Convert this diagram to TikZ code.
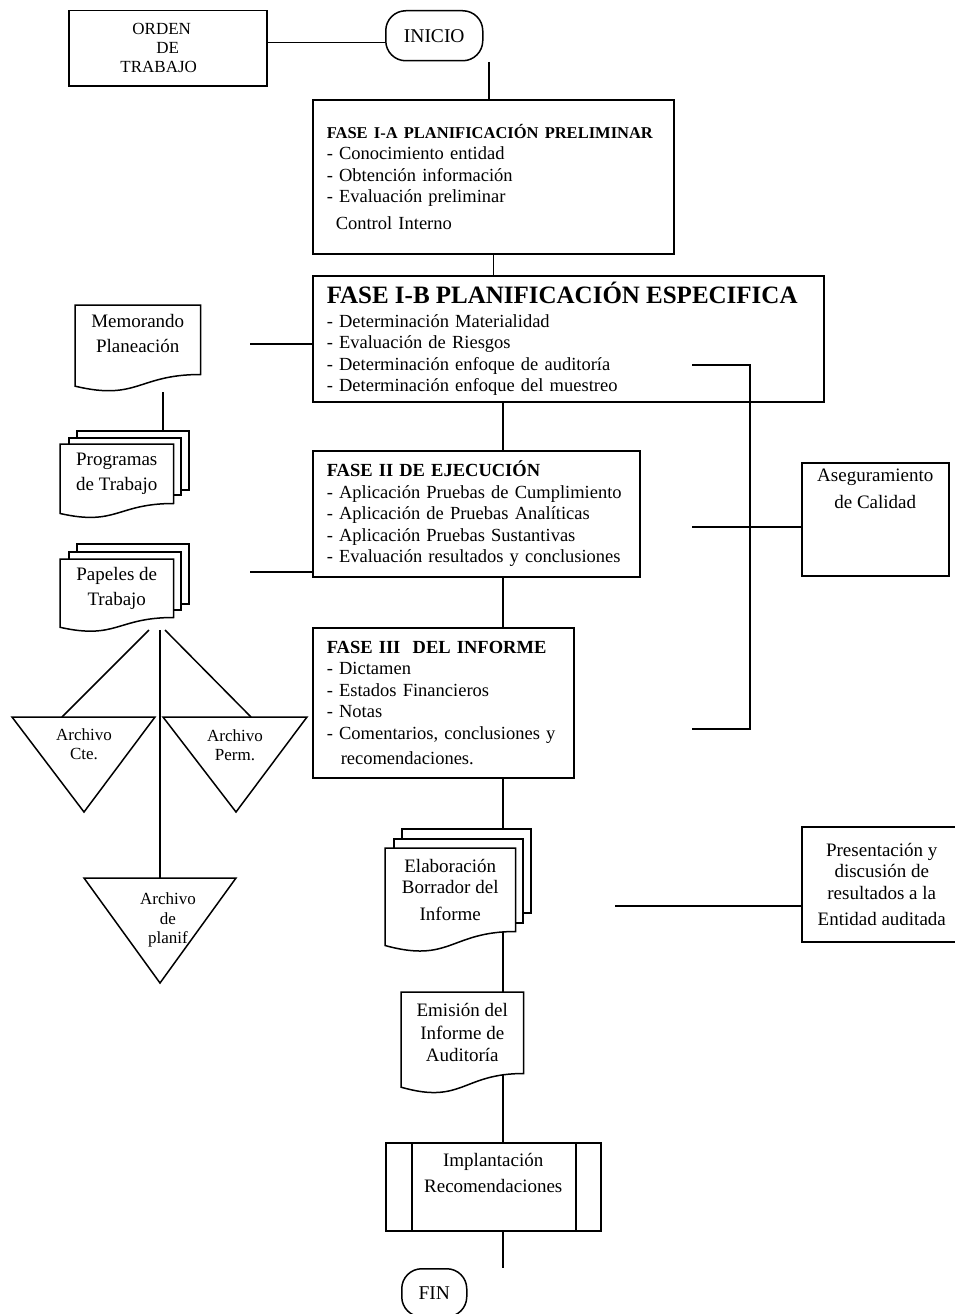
\documentclass[tikz,border=0pt]{standalone}
\usepackage{fontspec}
\setmainfont{Liberation Serif}
\usetikzlibrary{positioning,calc}
\tikzset{phase/.style={rectangle,draw,anchor=north west,align=left,inner xsep=14pt,font=\fontsize{18.5}{21.5}\selectfont},
         box/.style={rectangle,draw,anchor=north west,align=center,font=\fontsize{19}{21.5}\selectfont},
         terminal/.style={rectangle,draw,rounded corners=20pt,anchor=north west,font=\fontsize{19.5}{21.5}\selectfont},
         docbody/.style={rectangle,fill=white,anchor=north west,align=center,inner sep=2pt,font=\fontsize{19}{21.5}\selectfont},
         sheet/.style={rectangle,draw,fill=white,anchor=north west,inner sep=0pt},
         predproc/.style={rectangle,draw,anchor=north west,
             path picture={\draw ([xshift=26pt]path picture bounding box.north west) -- ([xshift=26pt]path picture bounding box.south west)
                                 ([xshift=-25pt]path picture bounding box.north east) -- ([xshift=-25pt]path picture bounding box.south east);}},
         filetext/.style={align=center,font=\fontsize{17}{19.5}\selectfont},
         inner label/.style={anchor=north,align=center,font=\fontsize{19}{21.5}\selectfont}
}
% document symbol: node box plus wavy foot
\newcommand{\docedge}[1]{\draw (#1.north west) -- (#1.north east) -- (#1.south east)
  .. controls (#1.south) and ($(#1.north)!1.384!(#1.south)$) .. ($(#1.north west)!1.1675!(#1.south west)$) -- cycle;}

\begin{document}
\begin{tikzpicture}[x=1pt,y=-1pt,line width=1.5pt]
\useasboundingbox (0,0) rectangle (955,1314);

\node[box, minimum width=198, minimum height=75, font=\fontsize{17}{19}\selectfont] (orden) at (68,10) {ORDEN\hspace*{12pt}\\DE\\TRABAJO\hspace*{18pt}};
\node[terminal, minimum width=97, minimum height=50] (inicio) at (385,10) {INICIO};
\draw ([yshift=5.5pt]orden.east) -- ([yshift=-7pt]inicio.west);
\coordinate (inicioout) at (489,62);
\coordinate (spine) at (503,0);

% fases
\node[phase, text width=333, minimum height=154] (f1a) at (312,99) {%
  {\fontsize{16.5}{19}\selectfont\bfseries FASE I-A PLANIFICACIÓN PRELIMINAR}\\
  - Conocimiento entidad\\
  - Obtención información\\
  - Evaluación preliminar\\[5pt]
  \hspace*{9pt}Control Interno};
\node[phase, text width=483, minimum height=126] (f1b) at (312,275) {%
  \mbox{\fontsize{25}{26}\selectfont\bfseries FASE I-B PLANIFICACIÓN ESPECIFICA}\\[2pt]
  - Determinación Materialidad\\
  - Evaluación de Riesgos\\
  - Determinación enfoque de auditoría\\
  - Determinación enfoque del muestreo};
\node[phase, text width=299, minimum height=126] (f2) at (312,450) {%
  {\fontsize{18.5}{20}\selectfont\bfseries FASE II DE EJECUCIÓN}\\
  - Aplicación Pruebas de Cumplimiento\\
  - Aplicación de Pruebas Analíticas\\
  - Aplicación Pruebas Sustantivas\\
  - Evaluación resultados y conclusiones};
\node[phase, text width=233, minimum height=150] (f3) at (312,627) {%
  {\fontsize{18.5}{20}\selectfont\bfseries FASE III\ \ DEL INFORME}\\
  - Dictamen\\
  - Estados Financieros\\
  - Notas\\
  - Comentarios, conclusiones y\\[4pt]
  \hspace*{14pt}recomendaciones.};
\draw (inicioout) -- (inicioout |- f1a.north);
\draw (f1a.south) -- (f1a.south |- f1b.north);
\draw (f1b.south -| spine) -- (f2.north -| spine);
\draw (f2.south -| spine) -- (f3.north -| spine);

% papeles a la izquierda
\node[docbody, minimum width=124, minimum height=68] (memo) at (75,305) {Memorando\\[3.5pt]Planeación\\[-8pt]\mbox{}};
\docedge{memo}
\coordinate (memoout) at (250,344);
\draw (memoout) -- (memoout -| f1b.west);

\node[sheet, minimum width=112, minimum height=59] (progs3) at (76,430) {};
\node[sheet, minimum width=112, minimum height=57] (progs2) at (68,437) {};
\node[docbody, minimum width=112, minimum height=58] (progs) at (60,444) {Programas\\[3.5pt]de Trabajo};
\docedge{progs}
\coordinate (memolow) at (163,392);
\draw (memolow) -- (memolow |- progs3.north);

\node[sheet, minimum width=112, minimum height=60] (pap3) at (76,543) {};
\node[sheet, minimum width=112, minimum height=58] (pap2) at (68,551) {};
\node[docbody, minimum width=112, minimum height=57] (pap) at (60,559) {Papeles de\\[3.5pt]Trabajo};
\docedge{pap}
\coordinate (papout) at (250,572);
\draw (papout) -- (papout -| f2.west);

% archivos
\node[filetext] (cte) at (84,744) {Archivo\\Cte.};
\draw (12,717) -- (155,717) -- (84,812) -- cycle;
\node[filetext] (perm) at (235,745) {Archivo\\Perm.};
\draw (163,717) -- (307,717) -- (236,812) -- cycle;
\node[filetext] (planif) at (168,920) {Archivo\\de\\planif};
\draw (84,878) -- (236,878) -- (160,983) -- cycle;
\coordinate (papfoot) at (160,630);
\coordinate (ctetop) at (62,717);
\coordinate (permtop) at (251,717);
\coordinate (planiftop) at (160,878);
\draw ([xshift=-11pt]papfoot) -- (ctetop);
\draw (papfoot) -- (planiftop);
\draw ([xshift=5pt]papfoot) -- (permtop);

% calidad
\node[box, minimum width=147, minimum height=113,
      label={[name=asegtxt,inner label,yshift=-3pt]north:{Aseguramiento\\[5pt]de Calidad}}] (aseg) at (801,462) {};
\coordinate (qtop) at (692,365);
\coordinate (qmid) at (692,527);
\coordinate (qbot) at (692,729);
\coordinate (qbar) at (750,0);
\draw (qtop) -- (qtop -| qbar) -- (qbot -| qbar) -- (qbot);
\draw (qmid) -- (qmid -| aseg.west);

% informe
\node[sheet, minimum width=129, minimum height=84] (elab3) at (401,828) {};
\node[sheet, minimum width=129, minimum height=84] (elab2) at (393,838) {};
\node[docbody, minimum width=129, minimum height=82] (elab) at (385,848) {Elaboración\\Borrador del\\[5.5pt]Informe};
\docedge{elab}
\draw (f3.south -| spine) -- (spine |- elab3.north);

\node[box, minimum width=160, minimum height=115] (pres) at (801,826) {Presentación y\\discusión de\\resultados a la\\[5pt]Entidad auditada};
\coordinate (presout) at (615,906);
\draw (presout) -- (presout -| pres.west);

\node[docbody, minimum width=121, minimum height=80] (emis) at (401,992) {Emisión del\\[1pt]Informe de\\[1pt]Auditoría};
\docedge{emis}
\draw (spine |- elab.south) -- (spine |- emis.north);

\node[predproc, minimum width=215, minimum height=88,
      label={[name=impltxt,inner label,yshift=-7pt]north:{Implantación\\[5pt]Recomendaciones}}] (impl) at (385,1142) {};
\draw (spine |- emis.south) -- (spine |- impl.north);
\node[terminal, minimum width=65, minimum height=48] (fin) at (401,1268) {FIN};
\draw (spine |- impl.south) -- (spine |- fin.north);
\end{tikzpicture}
\end{document}
